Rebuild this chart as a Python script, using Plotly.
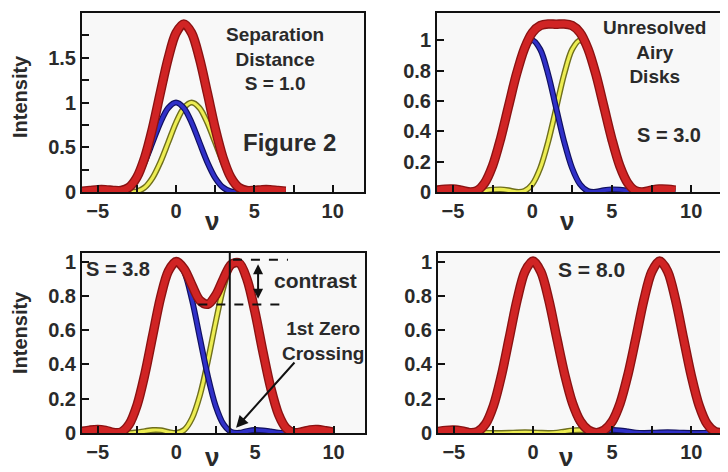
import plotly.graph_objects as go
from plotly.subplots import make_subplots

# ---------------- data ----------------
V = [-6, -5.5, -5, -4.5, -4, -3.5, -3, -2.5, -2, -1.5, -1, -0.5, 0, 0.5, 1, 1.5,
     2, 2.5, 3, 3.5, 4, 4.5, 5, 5.5, 6, 6.5, 7, 7.5, 8, 8.5, 9, 9.5, 10, 10.5,
     11, 11.5, 12]

BLUE = [0.009, 0.015, 0.017, 0.011, 0.001, 0.006, 0.051, 0.158, 0.333, 0.553,
        0.775, 0.939, 1.000, 0.939, 0.775, 0.553, 0.333, 0.158, 0.051, 0.006,
        0.001, 0.011, 0.017, 0.015, 0.009, 0.002, 0.000, 0.001, 0.003, 0.004,
        0.003, 0.001, 0.000, 0.000, 0.001, 0.002, 0.001]

YELLOW_S10 = [0.000, 0.002, 0.009, 0.015, 0.017, 0.011, 0.001, 0.006, 0.051, 0.158,
              0.333, 0.553, 0.775, 0.939, 1.000, 0.939, 0.775, 0.553, 0.333, 0.158,
              0.051, 0.006, 0.001, 0.011, 0.017, 0.015, 0.009, 0.002, 0.000, 0.001,
              0.003, 0.004, 0.003, 0.001, 0.000, 0.000, 0.001]
RED_S10 = [0.009, 0.017, 0.026, 0.026, 0.018, 0.017, 0.052, 0.164, 0.384, 0.711,
           1.108, 1.492, 1.775, 1.878, 1.775, 1.492, 1.108, 0.711, 0.384, 0.164,
           0.052, 0.017, 0.018, 0.026, 0.026, 0.017, 0.009, 0.003, 0.003, 0.005,
           0.006, 0.005, 0.003, 0.001, 0.001, 0.002, 0.002]

YELLOW_S30 = [0.003, 0.004, 0.003, 0.001, 0.000, 0.002, 0.009, 0.015, 0.017, 0.011,
              0.001, 0.006, 0.051, 0.158, 0.333, 0.553, 0.775, 0.939, 1.000, 0.939,
              0.775, 0.553, 0.333, 0.158, 0.051, 0.006, 0.001, 0.011, 0.017, 0.015,
              0.009, 0.002, 0.000, 0.001, 0.003, 0.004, 0.003]
RED_S30 = [0.012, 0.019, 0.020, 0.012, 0.001, 0.008, 0.060, 0.173, 0.350, 0.564,
           0.776, 0.945, 1.051, 1.097, 1.108, 1.106, 1.108, 1.097, 1.051, 0.945,
           0.776, 0.564, 0.350, 0.173, 0.060, 0.008, 0.001, 0.012, 0.020, 0.019,
           0.012, 0.003, 0.000, 0.001, 0.004, 0.006, 0.004]

YELLOW_S38 = [0.000, 0.002, 0.004, 0.004, 0.002, 0.000, 0.000, 0.004, 0.011, 0.017,
              0.016, 0.006, 0.000, 0.018, 0.086, 0.220, 0.418, 0.645, 0.850, 0.978,
              0.990, 0.884, 0.690, 0.462, 0.256, 0.107, 0.027, 0.001, 0.004, 0.014,
              0.017, 0.012, 0.005, 0.001, 0.000, 0.001, 0.003]
RED_S38 = [0.009, 0.017, 0.021, 0.015, 0.003, 0.006, 0.051, 0.162, 0.344, 0.570,
           0.791, 0.945, 1.000, 0.957, 0.861, 0.773, 0.751, 0.803, 0.901, 0.984,
           0.991, 0.895, 0.707, 0.477, 0.265, 0.109, 0.027, 0.002, 0.007, 0.018,
           0.020, 0.013, 0.005, 0.001, 0.001, 0.003, 0.004]

YELLOW_S80 = [0.000, 0.000, 0.000, 0.001, 0.001, 0.002, 0.001, 0.000, 0.000, 0.001,
              0.003, 0.004, 0.003, 0.001, 0.000, 0.002, 0.009, 0.015, 0.017, 0.011,
              0.001, 0.006, 0.051, 0.158, 0.333, 0.553, 0.775, 0.939, 1.000, 0.939,
              0.775, 0.553, 0.333, 0.158, 0.051, 0.006, 0.001]
RED_S80 = [0.009, 0.015, 0.017, 0.012, 0.002, 0.008, 0.052, 0.158, 0.333, 0.554,
           0.778, 0.943, 1.003, 0.940, 0.775, 0.555, 0.342, 0.173, 0.068, 0.017,
           0.002, 0.017, 0.068, 0.173, 0.342, 0.555, 0.775, 0.940, 1.003, 0.943,
           0.778, 0.554, 0.333, 0.158, 0.052, 0.008, 0.002]

# number of samples drawn in each panel (curves stop at the right)
N_DRAWN = [27, 31, 33, 37]
PANEL_YELLOW = [YELLOW_S10, YELLOW_S30, YELLOW_S38, YELLOW_S80]
PANEL_RED = [RED_S10, RED_S30, RED_S38, RED_S80]

X_TICKS = [-5, 0, 5, 10]
Y_TICKS_TOP_LEFT = [0, 0.5, 1, 1.5]
Y_TICKS_OTHER = [0, 0.2, 0.4, 0.6, 0.8, 1]

# ---------------- layout ----------------
W, H = 728, 472
OFF = 8  # page body margin of the html page
FONT = "Liberation Sans, Arial, sans-serif"
TXT = "#2a2a2a"

fig = make_subplots(rows=2, cols=2)

def px(x):
    return (x - OFF) / W

def py(y):
    return 1 - (y - OFF) / H

def xd(a, b):
    return [px(a), px(b)]

def yd(top, bottom):
    return [py(bottom), py(top)]

domains = [
    (xd(82, 364), yd(13, 192), [0, 2.0], Y_TICKS_TOP_LEFT, 0.25),
    (xd(437, 723), yd(13, 192), [0, 1.18], Y_TICKS_OTHER, None),
    (xd(82, 365), yd(253, 433), [0, 1.05], Y_TICKS_OTHER, None),
    (xd(438, 723), yd(253, 433), [0, 1.05], Y_TICKS_OTHER, None),
]

styles = [
    # (outline colour, outline width, core colour, core width)
    ("#6f6f1c", 6, "#eded52", 3.2),   # yellow
    ("#101060", 6, "#3030c8", 3.6),   # blue
    ("#8a1212", 9.5, "#d02424", 6.8),  # red
]

for i in range(4):
    r, c = i // 2 + 1, i % 2 + 1
    n = N_DRAWN[i]
    series = [PANEL_YELLOW[i][:n], BLUE[:n], PANEL_RED[i][:n]]
    for ys, (oc, ow, cc, cw) in zip(series, styles):
        for col, w in ((oc, ow), (cc, cw)):
            fig.add_trace(go.Scatter(x=V[:n], y=ys, mode="lines",
                                     line=dict(color=col, width=w, shape="spline", smoothing=0.9),
                                     showlegend=False, hoverinfo="skip"), row=r, col=c)

for i, (xdom, ydom, yr, yt, yminor) in enumerate(domains):
    sx = "" if i == 0 else str(i + 1)
    fig.layout["xaxis" + sx].update(
        domain=xdom, range=[-6, 12], tickvals=X_TICKS, ticks="inside", ticklen=7, tickwidth=2,
        tickcolor="#111", showline=True, linecolor="#111", linewidth=2, mirror=True,
        showgrid=False, zeroline=False, automargin=False,
        tickfont=dict(family=FONT, size=20, color=TXT, weight="bold"),
        minor=dict(dtick=2.5, tick0=0, ticks="inside", ticklen=7, tickwidth=2, tickcolor="#111"),
    )
    ymin = dict(dtick=yminor, tick0=0, ticks="inside", ticklen=7, tickwidth=2, tickcolor="#111") \
        if yminor else dict(ticks="")
    fig.layout["yaxis" + sx].update(
        domain=ydom, range=yr, tickvals=yt, ticks="inside", ticklen=7, tickwidth=2,
        tickcolor="#111", showline=True, linecolor="#111", linewidth=2, mirror=True,
        showgrid=False, zeroline=False, automargin=False,
        tickfont=dict(family=FONT, size=20, color=TXT, weight="bold"),
        minor=ymin,
    )

def ann(text, x, y, xref, yref, size=20, xanchor="center", yanchor="middle"):
    fig.add_annotation(text=text, x=x, y=y, xref=xref, yref=yref, showarrow=False,
                       xanchor=xanchor, yanchor=yanchor,
                       font=dict(family=FONT, size=size, color=TXT, weight="bold"))

# top-left
ann("Separation<br>Distance<br>S = 1.0", 6.32, 1.49, "x", "y", size=19)
ann("Figure 2", 7.27, 0.556, "x", "y", size=24)
# top-right
ann("Unresolved<br>Airy<br>Disks", 7.7, 0.925, "x2", "y2", size=19)
ann("S = 3.0", 8.6, 0.376, "x2", "y2")
# bottom-left
ann("S = 3.8", -5.9, 0.955, "x3", "y3", xanchor="left")
ann("contrast", 8.85, 0.887, "x3", "y3", size=21)
ann("1st Zero<br>Crossing", 9.3, 0.535, "x3", "y3", size=19)
# bottom-right
ann("S = 8.0", 3.67, 0.955, "x4", "y4", size=21)

# axis titles
for yc in (97, 333):
    fig.add_annotation(text="Intensity", x=px(20), y=py(yc), xref="paper", yref="paper",
                       showarrow=False, textangle=-90, xanchor="center", yanchor="middle",
                       font=dict(family=FONT, size=20, color=TXT, weight="bold"))
for xc, yc in ((212, 221), (567, 221), (212, 457), (566, 457)):
    fig.add_annotation(text="ν", x=px(xc), y=py(yc), xref="paper", yref="paper",
                       showarrow=False, xanchor="center", yanchor="middle",
                       font=dict(family=FONT, size=26, color=TXT, weight="bold"))

# bottom-left markers: vertical line, dashed contrast levels, arrows
fig.add_shape(type="line", x0=3.4, x1=3.4, y0=0, y1=1, xref="x3", yref="y3 domain",
              line=dict(color="#111", width=2))
fig.add_shape(type="line", x0=3.6, x1=7.1, y0=1.01, y1=1.01, xref="x3", yref="y3",
              line=dict(color="#111", width=2, dash="dash"))
fig.add_shape(type="line", x0=1.4, x1=7.1, y0=0.75, y1=0.75, xref="x3", yref="y3",
              line=dict(color="#111", width=2, dash="dash"))
fig.add_annotation(x=5.2, y=0.985, ax=5.2, ay=0.775, xref="x3", yref="y3", axref="x3", ayref="y3",
                   text="", showarrow=True, arrowhead=2, arrowside="end+start", arrowsize=1,
                   arrowwidth=2, arrowcolor="#111")
fig.add_annotation(x=3.8, y=0.03, ax=7.6, ay=0.42, xref="x3", yref="y3", axref="x3", ayref="y3",
                   text="", showarrow=True, arrowhead=2, arrowsize=1.2, arrowwidth=2,
                   arrowcolor="#111")

fig.update_layout(width=W, height=H, margin=dict(l=0, r=0, t=0, b=0),
                  paper_bgcolor="white", plot_bgcolor="#f8f8f8")

fig.write_html("out.html")
